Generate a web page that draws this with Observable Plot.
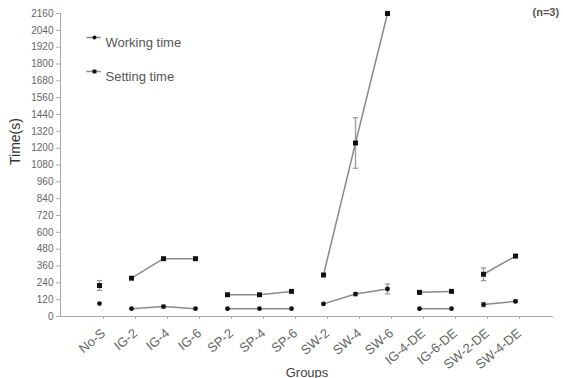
<!DOCTYPE html>
<html>
<head>
<meta charset="utf-8">
<script src="https://cdn.jsdelivr.net/npm/d3@7"></script>
<script src="https://cdn.jsdelivr.net/npm/@observablehq/plot@0.6"></script>
<style>
  html, body { margin: 0; padding: 0; background: #fff; }
  #chart svg { display: block; font-family: "Liberation Sans", Arial, sans-serif; }
</style>
</head>
<body>
<div id="chart"></div>
<script>
const groups = ["No-S","IG-2","IG-4","IG-6","SP-2","SP-4","SP-6","SW-2","SW-4","SW-6","IG-4-DE","IG-6-DE","SW-2-DE","SW-4-DE"];
const lineGroup = ["No-S","IG","IG","IG","SP","SP","SP","SW","SW","SW","IG-DE","IG-DE","SW-DE","SW-DE"];
const working = [92, 56, 71, 56, 56, 56, 56, 90, 160, 196, 56, 56, 85, 108];
const workingErr = [0, 0, 10, 0, 0, 0, 0, 0, 12, 35, 0, 0, 15, 10];
const setting = [221, 273, 412, 412, 155, 155, 179, 296, 1237, 2160, 172, 179, 301, 431];
const settingErr = [35, 0, 10, 10, 0, 0, 0, 0, 180, 0, 12, 0, 45, 10];
const yTicks = [0,120,240,360,480,600,720,840,960,1080,1200,1320,1440,1560,1680,1800,1920,2040,2160];

const rows = [];
groups.forEach((g, i) => {
  rows.push({group: g, series: "Working time", line: lineGroup[i], value: working[i], err: workingErr[i]});
  rows.push({group: g, series: "Setting time", line: lineGroup[i], value: setting[i], err: settingErr[i]});
});
const errRows = rows.filter(d => d.err > 0);

const hline = {draw(ctx, size) { const r = Math.sqrt(size) / 2; ctx.moveTo(-r, 0); ctx.lineTo(r, 0); }};

const chart = Plot.plot({
  width: 563,
  height: 378,
  marginTop: 13,
  marginBottom: 62,
  marginLeft: 60,
  marginRight: 10,
  style: {fontFamily: "Liberation Sans, Arial, sans-serif", background: "#fff"},
  x: {type: "point", domain: groups, padding: 1},
  y: {domain: [0, 2160]},
  marks: [
    Plot.frame({anchor: "left", stroke: "#aaa"}),
    Plot.ruleY([0], {stroke: "#aaa"}),
    Plot.axisY({ticks: yTicks, tickFormat: d => String(d), tickSize: 4, tickPadding: 3, fontSize: 10, stroke: "#aaa", color: "#666", label: null}),
    Plot.axisX({tickRotate: -40, tickSize: 3, tickPadding: 12, dx: 4, fontSize: 13, stroke: "#aaa", color: "#666", label: null}),
    Plot.line(rows, {x: "group", y: "value", z: d => d.series + d.line, stroke: "#8a8a8a", strokeWidth: 1.5}),
    Plot.ruleX(errRows, {x: "group", y1: d => d.value - d.err, y2: d => Math.min(2160, d.value + d.err), stroke: "#999", strokeWidth: 1.3}),
    Plot.dot(errRows, {x: "group", y: d => d.value - d.err, symbol: hline, r: 3, stroke: "#999", strokeWidth: 1.3}),
    Plot.dot(errRows, {x: "group", y: d => Math.min(2160, d.value + d.err), symbol: hline, r: 3, stroke: "#999", strokeWidth: 1.3}),
    Plot.dot(rows.filter(d => d.series === "Working time"), {x: "group", y: "value", r: 2.4, fill: "#111", stroke: "none"}),
    Plot.dot(rows.filter(d => d.series === "Setting time"), {x: "group", y: "value", symbol: "square", r: 2.8, fill: "#111", stroke: "none"}),
    // legend
    Plot.dot(["Working time"], {frameAnchor: "top-left", dx: 33, dy: 24, symbol: hline, r: 8, stroke: "#888", strokeWidth: 1.5}),
    Plot.dot(["Working time"], {frameAnchor: "top-left", dx: 34, dy: 24, r: 2, fill: "#111"}),
    Plot.text(["Working time"], {frameAnchor: "top-left", dx: 45, dy: 24, textAnchor: "start", fontSize: 13, fill: "#555"}),
    Plot.dot(["Setting time"], {frameAnchor: "top-left", dx: 33, dy: 58, symbol: hline, r: 8, stroke: "#888", strokeWidth: 1.5}),
    Plot.dot(["Setting time"], {frameAnchor: "top-left", dx: 34, dy: 58, symbol: "square", r: 2.2, fill: "#111"}),
    Plot.text(["Setting time"], {frameAnchor: "top-left", dx: 45, dy: 58, textAnchor: "start", fontSize: 13, fill: "#555"}),
    // annotations
    Plot.text(["(n=3)"], {frameAnchor: "top-right", dx: -21, dy: -5, textAnchor: "start", fontSize: 11, fontWeight: "bold", fill: "#555"}),
    Plot.text(["Time(s)"], {frameAnchor: "left", dx: -45, rotate: -90, fontSize: 14, fill: "#333"}),
    Plot.text(["Groups"], {frameAnchor: "bottom", dy: 60, fontSize: 13, fill: "#444"})
  ]
});
document.getElementById("chart").appendChild(chart);
</script>
</body>
</html>
